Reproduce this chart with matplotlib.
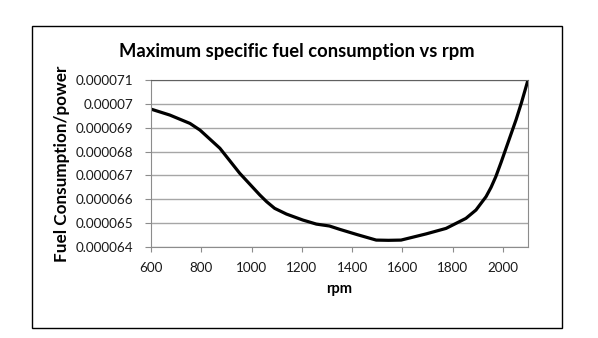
import matplotlib
matplotlib.use("Agg")
import matplotlib.pyplot as plt
from matplotlib.patches import Rectangle

rpm = [600, 675, 755, 795, 874, 953, 1033, 1060, 1092, 1139, 1204, 1258,
       1310, 1351, 1420, 1496, 1545, 1595, 1695, 1774, 1853, 1893, 1933,
       1953, 1972, 1993, 2013, 2033, 2053, 2074, 2100]
fuel = [69.78, 69.53, 69.18, 68.90, 68.14, 67.09, 66.18, 65.90, 65.62, 65.38,
        65.13, 64.96, 64.88, 64.74, 64.52, 64.29, 64.28, 64.29, 64.55, 64.78,
        65.20, 65.55, 66.11, 66.50, 66.95, 67.55, 68.15, 68.75, 69.35, 70.05,
        71.00]
fuel = [v * 1e-6 for v in fuel]
yticks = [0.000064, 0.000065, 0.000066, 0.000067, 0.000068, 0.000069, 0.00007, 0.000071]
ytick_labels = ["0.000064", "0.000065", "0.000066", "0.000067", "0.000068",
                "0.000069", "0.00007", "0.000071"]
xticks = [600, 800, 1000, 1200, 1400, 1600, 1800, 2000]

plt.rcParams['font.family'] = ['Lato', 'DejaVu Sans']

fig = plt.figure(figsize=(5.98, 3.38), dpi=100)
fig.patches.append(Rectangle((32/598, 1-328/338), 530/598, 302/338,
                             transform=fig.transFigure, fill=False,
                             edgecolor='black', linewidth=1.0))
ax = fig.add_axes([151/598, 1-247/338, 377/598, 167/338])
ax.plot(rpm, fuel, color='black', linewidth=2.3, solid_joinstyle='round',
        solid_capstyle='round')
ax.set_xlim(600, 2100)
ax.set_ylim(0.000064, 0.000071)
ax.set_yticks(yticks)
ax.set_yticklabels(ytick_labels)
ax.set_xticks(xticks)
ax.grid(axis='y', color='#a6a6a6', linewidth=1.0)
ax.set_axisbelow(True)
for s in ['left', 'bottom', 'right']:
    ax.spines[s].set_color('#8c8c8c')
ax.spines['top'].set_color('#606060')
ax.tick_params(axis='both', colors='#8c8c8c', labelcolor='#1a1a1a', labelsize=9.7,
               direction='out')
ax.tick_params(axis='y', length=4, pad=9)
ax.tick_params(axis='x', length=3.6, pad=7)
ax.set_xlabel('rpm', fontsize=10.5, fontweight='bold', labelpad=6)
fig.text(62/598, 1-164/338, 'Fuel Consumption/power', rotation=90,
         ha='center', va='center', fontsize=12.3, fontweight='bold')
fig.text(297/598, 1-52/338, 'Maximum specific fuel consumption vs rpm',
         ha='center', va='center', fontsize=13.2, fontweight='bold')
fig.savefig('out.png', dpi=100)
